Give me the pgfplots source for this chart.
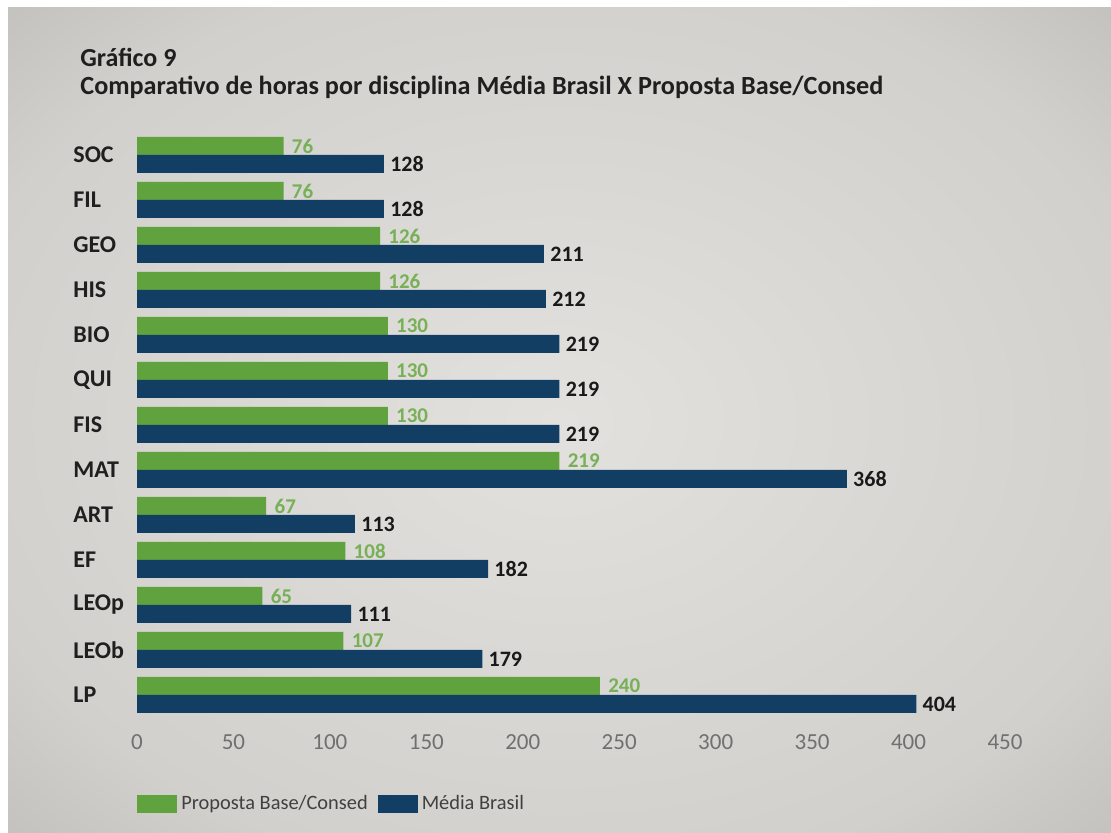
\documentclass[border=0pt]{standalone}
\usepackage{pgfplots}
\pgfplotsset{compat=1.18}
\usepackage{fontspec}
\setmainfont{Carlito}
\definecolor{pgreen}{HTML}{5FA23E}
\definecolor{pnavy}{HTML}{123E64}
\definecolor{glabel}{HTML}{78B058}
\definecolor{ticktxt}{HTML}{707070}
\definecolor{bginner}{HTML}{E3E1DD}
\definecolor{bgmid}{HTML}{D2D0CC}
\definecolor{bgouter}{HTML}{A8A7A5}
\pgfdeclareradialshading{bgshade}{\pgfpoint{0bp}{0bp}}{color(0bp)=(bginner); color(28bp)=(bgmid); color(50bp)=(bgouter); color(100bp)=(bgouter)}
\begin{document}
\begin{tikzpicture}
\useasboundingbox (0,0) rectangle (555.5pt,416.5pt);
\fill[white] (0,0) rectangle (555.5pt,416.5pt);
\shade[shading=bgshade] (4pt,0pt) rectangle (555.5pt,412.5pt);
\node[anchor=west, inner sep=0pt, font=\fontsize{13}{15}\selectfont\bfseries, text=black!88] at (40pt,388pt) {Gráfico 9};
\node[anchor=west, inner sep=0pt, font=\fontsize{13.1}{15}\selectfont\bfseries, text=black!88] at (40pt,373pt) {Comparativo de horas por disciplina Média Brasil X Proposta Base/Consed};
\begin{axis}[
  at={(68.5pt,57.75pt)}, anchor=south west,
  scale only axis, width=434pt, height=292.5pt,
  xbar, bar width=9pt,
  xmin=0, xmax=450, ymin=-0.5, ymax=12.5,
  axis line style={draw=none},
  major tick length=0pt,
  xtick={0,50,...,450},
  ytick={0,...,12},
  yticklabels={LP,LEOb,LEOp,EF,ART,MAT,FIS,QUI,BIO,HIS,GEO,FIL,SOC},
  yticklabel style={anchor=west, xshift=-32pt, inner sep=0pt, font=\fontsize{12}{14}\selectfont\bfseries, text=black!88},
  xticklabel style={yshift=-5pt, font=\fontsize{11.5}{13}\selectfont, text=ticktxt},
  /pgf/number format/assume math mode=true,
  clip=false,
  nodes near coords,
  legend style={at={(0,-0.148)}, anchor=west, draw=none, fill=none, inner sep=0pt, legend columns=2,
    font=\fontsize{10.2}{12}\selectfont, text=black!75,
    /tikz/every even column/.append style={column sep=3pt}},
  legend image code/.code={\draw[#1,draw=none] (0pt,-4.5pt) rectangle (20pt,4.5pt);},
]
\addplot[fill=pgreen, draw=none, bar shift=4.5pt,
  nodes near coords style={anchor=west, xshift=3pt, inner sep=1pt, font=\fontsize{10.5}{12}\selectfont\bfseries, text=glabel}]
  coordinates {(240,0) (107,1) (65,2) (108,3) (67,4) (219,5) (130,6) (130,7) (130,8) (126,9) (126,10) (76,11) (76,12)};
\addlegendentry{Proposta Base/Consed}
\addplot[fill=pnavy, draw=none, bar shift=-4.5pt,
  nodes near coords style={anchor=west, xshift=2pt, inner sep=1pt, font=\fontsize{11}{12}\selectfont\bfseries, text=black!90}]
  coordinates {(404,0) (179,1) (111,2) (182,3) (113,4) (368,5) (219,6) (219,7) (219,8) (212,9) (211,10) (128,11) (128,12)};
\addlegendentry{Média Brasil}
\end{axis}
\end{tikzpicture}
\end{document}
